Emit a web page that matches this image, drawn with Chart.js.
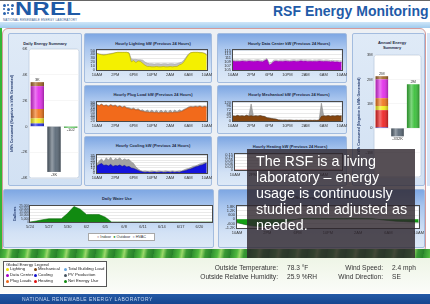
<!DOCTYPE html>
<html>
<head>
<meta charset="utf-8">
<script src="https://cdn.jsdelivr.net/npm/chart.js@4.4.1/dist/chart.umd.min.js"></script>
<style>
html,body{margin:0;padding:0;width:430px;height:304px;overflow:hidden;background:#fff;font-family:"Liberation Sans",Arial,sans-serif;}
.abs{position:absolute;}
.panel{position:absolute;box-sizing:border-box;border:1px solid #a3bcdf;border-radius:2px;}
.hp{background:linear-gradient(#7ea7e3 0%,#a8c5ee 28%,#d3e2f5 75%,#dde9f7 100%);}
.sp{background:linear-gradient(#dfeaf7,#d2e1f3);}
.t{position:absolute;font-weight:bold;font-size:4px;color:#1d2a44;white-space:nowrap;transform:translate(-50%,-50%);}
canvas{position:absolute;}
.dot{position:absolute;width:3px;height:3px;border-radius:50%;}
.lg{position:absolute;font-size:4.3px;color:#222;white-space:nowrap;}
.info{position:absolute;font-size:6.6px;color:#333;white-space:nowrap;}
</style>
</head>
<body>
<!-- header -->
<div class="abs" style="left:0;top:0;width:430px;height:1px;background:#666"></div>
<div class="abs" style="left:3px;top:4px;width:11px;height:12px">
  <div class="dot" style="left:0;top:0;background:#2a62ad"></div>
  <div class="dot" style="left:4px;top:0;background:#2a62ad;width:2px;height:2px"></div>
  <div class="dot" style="left:8px;top:0;background:#2a62ad"></div>
  <div class="dot" style="left:0;top:4px;background:#2a62ad;width:2px;height:2px"></div>
  <div class="dot" style="left:4px;top:4px;background:#2a62ad"></div>
  <div class="dot" style="left:8px;top:4px;background:#2a62ad;width:2px;height:2px"></div>
  <div class="dot" style="left:0;top:8px;background:#2a62ad"></div>
  <div class="dot" style="left:4px;top:8px;background:#2a62ad;width:2px;height:2px"></div>
  <div class="dot" style="left:8px;top:8px;background:#2a62ad"></div>
</div>
<div class="abs" style="left:15px;top:-1px;font-size:18px;font-weight:bold;color:#1f5aa6;transform:scaleX(1.32);transform-origin:left top;letter-spacing:0.3px">NREL</div>
<div class="abs" style="left:3px;top:18px;font-size:3px;color:#3b5d8f;white-space:nowrap;letter-spacing:0.15px">NATIONAL RENEWABLE ENERGY LABORATORY</div>
<div class="abs" style="left:273px;top:3px;font-size:14px;font-weight:bold;color:#1f5ba8;white-space:nowrap">RSF Energy Monitoring</div>
<div class="abs" style="left:0;top:22px;width:430px;height:6px;background:linear-gradient(#cfe6f8,#9fcbee)"></div>

<!-- main area -->
<div class="abs" style="left:0;top:28px;width:2px;height:230px;background:#35b535"></div>
<div class="abs" style="left:2px;top:28px;width:424px;height:225px;box-sizing:border-box;border:1px solid #d49a9a;border-radius:6px;background:#edf0f4"></div>
<div class="abs" style="left:427px;top:33px;width:3px;height:153px;background:#d6e4f6"></div>

<div class="panel sp" style="left:8px;top:33px;width:74px;height:153px"></div>
<div class="panel hp" style="left:84px;top:33px;width:128px;height:50px"></div>
<div class="panel hp" style="left:84px;top:85px;width:128px;height:49px"></div>
<div class="panel hp" style="left:84px;top:136px;width:128px;height:50px"></div>
<div class="panel hp" style="left:217px;top:33px;width:130px;height:50px"></div>
<div class="panel hp" style="left:217px;top:85px;width:130px;height:49px"></div>
<div class="panel hp" style="left:217px;top:136px;width:130px;height:50px"></div>
<div class="panel sp" style="left:352px;top:33px;width:73px;height:153px"></div>
<div class="panel hp" style="left:3px;top:189px;width:211px;height:59px"></div>
<div class="panel hp" style="left:218px;top:189px;width:207px;height:59px"></div>

<div class="t" style="left:45px;top:43px">Daily Energy Summary</div>
<div class="t" style="left:153px;top:43px">Hourly Lighting kW (Previous 24 Hours)</div>
<div class="t" style="left:153px;top:94px">Hourly Plug Load kW (Previous 24 Hours)</div>
<div class="t" style="left:153px;top:145px">Hourly Cooling kW (Previous 24 Hours)</div>
<div class="t" style="left:289px;top:43px">Hourly Data Center kW (Previous 24 Hours)</div>
<div class="t" style="left:289px;top:94px">Hourly Mechanical kW (Previous 24 Hours)</div>
<div class="t" style="left:290px;top:146px">Hourly Heating kW (Previous 24 Hours)</div>
<div class="t" style="left:392px;top:45px;text-align:center;line-height:5px">Annual Energy<br>Summary</div>
<div class="t" style="left:117px;top:198px">Daily Water Use</div>
<div class="t" style="left:322px;top:197px">Hourly Net Energy kW (Previous 24 Hours)</div>

<canvas id="cDaily"></canvas>
<canvas id="cAnnual"></canvas>
<canvas id="cLight"></canvas>
<canvas id="cPlug"></canvas>
<canvas id="cCool"></canvas>
<canvas id="cData"></canvas>
<canvas id="cMech"></canvas>
<canvas id="cHeat"></canvas>
<canvas id="cPower"></canvas>
<canvas id="cWater"></canvas>

<div class="abs" style="left:88px;top:233px;width:67px;height:8px;box-sizing:border-box;border:1px solid #a8a8a8;background:#fff;font-size:3.8px;color:#333;line-height:6px;text-align:center;white-space:nowrap">
  <span style="color:#c9b0b0">&#9679;</span> Indoor &nbsp;<span style="color:#118a11">&#9679;</span> Outdoor &nbsp;<span style="color:#b8b8c8">&#9679;</span> HVAC
</div>

<!-- grass strip -->
<div class="abs" style="left:0;top:249px;width:430px;height:9px;background:repeating-linear-gradient(100deg,#2f8f2f 0px,#4fb83f 6px,#9ad86a 9px,#3a9a34 13px,#27802a 19px)"></div>

<!-- overlay -->
<div class="abs" style="left:247px;top:149px;width:168px;height:110px;background:rgba(44,35,42,0.8)"></div>
<div class="abs" style="left:256px;top:153px;font-size:14.3px;line-height:16px;color:#fff;white-space:nowrap">The RSF is a living<br>laboratory &#8211; energy<br>usage is continuously<br>studied and adjusted as<br>needed.</div>

<!-- bottom info -->
<div class="abs" style="left:0;top:258px;width:430px;height:35px;background:linear-gradient(#eef5e6,#fbfcf9)"></div>
<div class="abs" style="left:3px;top:261px;width:104px;height:26px;box-sizing:border-box;border:1px solid #555;background:#fff"></div>
<div class="lg" style="left:6px;top:262px">Global Energy Legend</div>
<div id="legendItems"></div>
<div class="info" style="right:152px;top:264px">Outside Temperature:</div>
<div class="info" style="left:287px;top:264px">78.3 &deg;F</div>
<div class="info" style="right:152px;top:273px">Outside Relative Humidity:</div>
<div class="info" style="left:287px;top:273px">25.9 %RH</div>
<div class="info" style="right:47px;top:264px">Wind Speed:</div>
<div class="info" style="left:392px;top:264px">2.4 mph</div>
<div class="info" style="right:47px;top:273px">Wind Direction:</div>
<div class="info" style="left:392px;top:273px">SE</div>

<div class="abs" style="left:0;top:294px;width:430px;height:10px;background:linear-gradient(#2359a6,#16468f)"></div>
<div class="abs" style="left:22px;top:296px;font-size:5px;color:#c9d8ef;letter-spacing:0.45px;white-space:nowrap">NATIONAL RENEWABLE ENERGY LABORATORY</div>

<script>
// ---- data ----
var hourTicks = ['10AM', '2PM', '6PM', '10PM', '2AM', '6AM', '10AM'];

// half-hour readings, 10AM -> 10AM
var lightingNow = [42, 40, 39, 38, 39, 40, 41, 42,  44, 45, 45, 45, 45, 45, 43, 21,
  24, 19, 23, 22, 17, 12, 9, 9,  8, 8, 9, 8, 8, 9, 8, 8,
  9, 8, 9, 9, 13, 15, 21, 30,  39, 44, 45, 45, 45, 44, 44, 42,  38];
var lightingPrev = [42, 41, 40, 40, 40, 41, 42, 43,  44, 45, 45, 45, 45, 45, 44, 28,
  27, 27, 26, 26, 25, 20, 17, 16,  16, 15, 16, 16, 15, 16, 16, 15,
  16, 16, 15, 16, 18, 20, 25, 33,  41, 44, 45, 45, 45, 45, 44, 43,  40];

var plugNow = [80, 77, 82, 76, 79, 74, 80, 75,  78, 72, 76, 70, 74, 68, 66, 63,
  65, 61, 62, 58, 56, 54, 53, 52,  53, 51, 52, 50, 52, 51, 52, 50,
  52, 51, 53, 52, 54, 56, 60, 65,  70, 73, 71, 74, 72, 75, 71, 74,  72];
var plugPrev = [82, 79, 84, 78, 81, 77, 82, 78,  80, 75, 78, 73, 76, 71, 70, 66,
  69, 63, 66, 60, 62, 55, 61, 54,  61, 53, 60, 52, 61, 53, 60, 52,
  61, 53, 61, 54, 62, 58, 64, 67,  73, 75, 74, 76, 75, 77, 74, 76,  75];

var coolingNow = [14, 17, 19, 15, 16, 14, 17, 13,  15, 14, 16, 13, 15, 12, 13, 10,
  9, 7, 5, 3, 2, 1, 2, 1,  1, 2, 1, 1, 2, 1, 1, 2,
  1, 2, 1, 2, 1, 3, 4, 5,  7, 8, 10, 12, 13, 15, 16, 18,  20];
var coolingPrev = [18, 24, 28, 22, 30, 26, 31, 24,  29, 27, 30, 25, 28, 26, 27, 22,
  19, 12, 8, 5, 3, 4, 3, 3,  4, 3, 3, 4, 3, 3, 4, 3,
  3, 4, 3, 3, 4, 4, 6, 8,  9, 11, 13, 14, 16, 18, 19, 21,  22];

var dataNow = [109.6, 109.4, 109.5, 109.3, 109.6, 109.5, 109.4, 109.6,
  109.5, 109.3, 109.5, 109.6, 109.4, 109.2, 109.8, 110.3,
  107.6, 108.2, 109.4, 109.6, 109.3, 109.5, 109.4, 109.6,
  109.5, 109.3, 109.5, 109.6, 109.4, 109.5, 109.7, 109.5,
  109.6, 109.4, 109.5, 109.3, 109.5, 109.4, 109.6, 109.5,
  109.3, 109.5, 109.4, 109.2, 109.3, 109.1, 109.2, 109.0,  109.1];
var dataPrev = [110.1, 110.0, 110.1, 109.9, 110.2, 110.0, 110.0, 110.2,
  110.0, 109.9, 110.1, 110.2, 110.0, 109.8, 110.3, 110.8,
  108.4, 108.9, 110.0, 110.1, 109.9, 110.1, 110.0, 110.2,
  110.0, 109.9, 110.1, 110.2, 110.0, 110.1, 110.3, 110.1,
  110.2, 110.0, 110.1, 109.9, 110.1, 110.0, 110.2, 110.1,
  109.9, 110.1, 110.0, 109.8, 109.9, 109.7, 109.8, 109.6,  109.7];

var mechNow = [32, 30, 35, 31, 33, 30, 36, 31,  34, 30, 33, 31, 34, 30, 28, 20,
  18, 15, 13, 11, 6, 5, 4, 5,  4, 5, 4, 3, 4, 3, 4, 3,
  4, 3, 4, 3, 4, 3, 5, 30,  33, 31, 34, 30, 33, 31, 34, 32,  33];
var mechPrev = [34, 32, 37, 33, 35, 32, 38, 33,  110, 32, 35, 33, 36, 32, 30, 22,
  20, 17, 15, 13, 8, 7, 6, 7,  6, 7, 6, 5, 6, 5, 6, 5,
  6, 5, 6, 5, 6, 5, 7, 115,  35, 33, 36, 32, 35, 33, 36, 34,  35];

// hourly readings, 10AM -> 10AM
var heatingNow = [0, 0, 0, 0, 0, 0, 0, 0, 0, 0, 0, 0, 0, 0, 0, 0, 0, 0, 0, 0, 0, 0, 0, 0, 0];
var netPower = [-450, -700, -900, -1000, -950, -800, -500, -200, 50, 120, 130, 120, 110,
  120, 110, 120, 130, 120, 100, -50, -150, -250, -300, -350, -400];

// energy summaries
var sumCats = ['Consumed', 'Produced', 'Net'];
var dailyCooling = [230, null, null];
var dailyHeating = [0, null, null];
var dailyLighting = [390, null, null];
var dailyPlug = [730, null, null];
var dailyDataCtr = [1770, null, null];
var dailyMech = [308, null, null];
var dailyPV = [null, -3530, null];
var dailyNet = [null, null, -102];

var annualCooling = [30000, null, null];
var annualHeating = [710000, null, null];
var annualLighting = [170000, null, null];
var annualPlug = [320000, null, null];
var annualDataCtr = [770000, null, null];
var annualMech = [130000, null, null];
var annualPV = [null, -332000, null];
var annualNet = [null, null, 1800000];

// water
var waterDays = ['5/24', '5/25', '5/26', '5/27', '5/28', '5/29', '5/30', '5/31', '6/1', '6/2',
  '6/3', '6/4', '6/5', '6/6', '6/7', '6/8', '6/9', '6/10', '6/11', '6/12',
  '6/13', '6/14', '6/15', '6/16', '6/17', '6/18', '6/19', '6/20', '6/21', '6/22'];
var waterOutdoor = [0, 1500, 3500, 5000, 5000, 5000, 13500, 24000, 20000, 11500,
  11500, 11500, 7500, 0, 0, 0, 0, 0, 0, 0,
  0, 0, 0, 0, 0, 0, 0, 0, 0, 0];

var legendItems = [
  ['Lighting', '#efe000'], ['Data Center', '#a000c4'], ['Plug Loads', '#e8681a'],
  ['Mechanical', '#7a4412'], ['Cooling', '#1212cc'], ['Heating', '#dd1111'],
  ['Total Building Load', '#6aa6de'], ['PV Production', '#46525e'], ['Net Energy Use', '#118a11']
];

// ---- setup ----
Chart.defaults.font.family = '"Liberation Sans", Arial, sans-serif';
Chart.defaults.font.size = 4;
Chart.defaults.color = '#333';

var plotFrame = {
  id: 'plotFrame',
  beforeDraw: function (chart, args, o) {
    var a = chart.chartArea, c = chart.ctx;
    c.save();
    c.fillStyle = o.bg || '#fff';
    c.beginPath();
    c.roundRect(a.left - (o.inset || 0), a.top - (o.inset || 0), a.right - a.left + 2 * (o.inset || 0), a.bottom - a.top + 2 * (o.inset || 0), o.radius || 0);
    c.fill();
    if (o.edge) { c.strokeStyle = o.edge; c.lineWidth = 0.8; c.stroke(); }
    c.restore();
  },
  afterDatasetsDraw: function (chart, args, o) {
    if (!o.border) return;
    var a = chart.chartArea, c = chart.ctx;
    c.save();
    c.strokeStyle = o.border;
    c.lineWidth = 1;
    c.strokeRect(Math.round(a.left) - 0.5, Math.round(a.top) - 0.5, Math.round(a.right - a.left) + 1, Math.round(a.bottom - a.top) + 1);
    c.restore();
  }
};

// shading + totals on the summary bars
var barDeco = {
  id: 'barDeco',
  afterDatasetsDraw: function (chart, args, o) {
    var c = chart.ctx;
    c.save();
    chart.data.datasets.forEach(function (ds, i) {
      chart.getDatasetMeta(i).data.forEach(function (el, j) {
        if (ds.data[j] == null) return;
        var l = el.x - el.width / 2, t = Math.min(el.y, el.base), h = Math.abs(el.base - el.y);
        var g = c.createLinearGradient(l, 0, l + el.width, 0);
        g.addColorStop(0, 'rgba(0,0,0,0.25)');
        g.addColorStop(0.35, 'rgba(255,255,255,0.35)');
        g.addColorStop(0.6, 'rgba(255,255,255,0.05)');
        g.addColorStop(1, 'rgba(0,0,0,0.3)');
        c.fillStyle = g;
        c.fillRect(l, t, el.width, h);
      });
    });
    c.font = '4px "Liberation Sans", Arial';
    c.fillStyle = '#333';
    c.textAlign = 'center';
    chart.data.labels.forEach(function (lab, j) {
      var top = Infinity, bot = -Infinity, x = 0, total = 0;
      chart.data.datasets.forEach(function (ds, i) {
        if (ds.data[j] == null) return;
        var el = chart.getDatasetMeta(i).data[j];
        x = el.x; total += ds.data[j];
        top = Math.min(top, el.y, el.base); bot = Math.max(bot, el.y, el.base);
      });
      var txt = o.fmt(total);
      if (total >= 0) { c.textBaseline = 'bottom'; c.fillText(txt, x, top - 0.5); }
      else { c.textBaseline = 'top'; c.fillText(txt, x, bot + 0.5); }
    });
    c.restore();
  }
};

function pts(vals) {
  var step = 24 / (vals.length - 1);
  return vals.map(function (v, i) { return { x: i * step, y: v }; });
}

function hourly(id, panel, plot, yr, sets, ycb) {
  var cv = document.getElementById(id);
  var padT = 2, padR = 6, axH = 8;
  cv.style.left = panel[0] + 'px';
  cv.style.top = (plot[1] - padT) + 'px';
  cv.width = plot[2] + padR - panel[0];
  cv.height = plot[3] - plot[1] + padT + axH;
  new Chart(cv, {
    type: 'line',
    data: {
      datasets: sets.map(function (s) {
        return { data: pts(s.data), fill: s.fill || 'origin', backgroundColor: s.bg, borderColor: s.line, borderWidth: 0.6 };
      })
    },
    plugins: [plotFrame],
    options: {
      responsive: false, animation: false, devicePixelRatio: 1,
      layout: { padding: { top: padT, right: padR, left: 0, bottom: 0 } },
      plugins: { legend: { display: false }, tooltip: { enabled: false }, plotFrame: { border: '#4a4a4a' } },
      elements: { point: { radius: 0 }, line: { tension: 0 } },
      scales: {
        x: {
          type: 'linear', min: 0, max: 24,
          afterFit: function (s) { s.height = axH; },
          grid: { display: false, drawTicks: false }, border: { display: false },
          ticks: { stepSize: 4, autoSkip: false, maxRotation: 0, padding: 2, color: '#333',
            callback: function (v) { return hourTicks[v / 4]; } }
        },
        y: {
          min: yr[0], max: yr[1],
          afterFit: function (s) { s.width = plot[0] - panel[0]; },
          grid: { color: '#d2d2d2', lineWidth: 0.5, drawTicks: false }, border: { display: false },
          ticks: { stepSize: yr[2], autoSkip: false, padding: 2, color: '#333', callback: ycb }
        }
      }
    }
  });
}

var grey = '#a2a2a2', greyLine = '#8a8a8a';
hourly('cLight', [84], [97, 48, 208, 70], [0, 50, 10], [
  { data: lightingNow, bg: '#f4f000', line: '#b0a800' },
  { data: lightingPrev, bg: '#c2c2c2', line: '#a0a0a0' }]);
hourly('cPlug', [84], [97, 100, 208, 121], [20, 90, 10], [
  { data: plugNow, bg: '#f26a1b', line: '#c4500f' },
  { data: plugPrev, bg: grey, line: greyLine }]);
hourly('cCool', [84], [97, 153, 208, 173], [0, 35, 5], [
  { data: coolingNow, bg: '#1414dc', line: '#0a0aa0' },
  { data: coolingPrev, bg: grey, line: greyLine }]);
hourly('cData', [217], [233, 48, 343, 70], [105, 115, 2], [
  { data: dataNow, bg: '#b000cc', line: '#80009a' },
  { data: dataPrev, bg: 'rgba(0,0,0,0)', line: '#8a8a8a', fill: false }]);
hourly('cMech', [217], [233, 100, 343, 121], [0, 120, 24], [
  { data: mechNow, bg: '#86460f', line: '#5e300a' },
  { data: mechPrev, bg: grey, line: greyLine }]);
hourly('cHeat', [217], [235, 152, 343, 170], [0, 0.15, 0.03], [
  { data: heatingNow, bg: '#e01010', line: '#a00000' }],
  function (v) { return v.toFixed(2).replace(/^0\.00$/, '0'); });
hourly('cPower', [218], [237, 204, 420, 228], [-1200, 1800, 600], [
  { data: netPower, bg: '#15a015', line: '#0a600a' }],
  function (v) { return Math.abs(v) >= 1000 ? (v / 1000) + 'K' : v; });

function summary(id, left, top, w, h, pad, yw, yr, ytitle, ycb, sets, fmt) {
  var cv = document.getElementById(id);
  cv.style.left = left + 'px'; cv.style.top = top + 'px';
  cv.width = w; cv.height = h;
  new Chart(cv, {
    type: 'bar',
    data: {
      labels: sumCats,
      datasets: sets.map(function (s) {
        return { data: s[0], backgroundColor: s[1], barPercentage: 0.8, categoryPercentage: 1 };
      })
    },
    plugins: [plotFrame, barDeco],
    options: {
      responsive: false, animation: false, devicePixelRatio: 1,
      layout: { padding: pad },
      plugins: { legend: { display: false }, tooltip: { enabled: false },
        plotFrame: { bg: '#fff', radius: 2.5, edge: '#bccbe0' }, barDeco: { fmt: fmt } },
      scales: {
        x: { display: false, stacked: true },
        y: {
          stacked: true, min: yr[0], max: yr[1],
          afterFit: function (s) { s.width = yw; },
          grid: { color: '#ececec', lineWidth: 0.5, drawTicks: false }, border: { display: false },
          title: { display: true, text: ytitle, color: '#233a6e', font: { size: 3.6, weight: 'bold' }, padding: 0 },
          ticks: { stepSize: yr[2], autoSkip: false, padding: 1.5, color: '#333', callback: ycb }
        }
      }
    }
  });
}

summary('cDaily', 8, 45, 74, 141, { left: 2, top: 4, right: 3, bottom: 8 }, 19,
  [-4000, 6000, 2000], 'kWh Consumed (Negative is kWh Generated)',
  function (v) { return v === 0 ? '0' : (v / 1000) + 'K'; },
  [[dailyCooling, '#2b33e6'], [dailyHeating, '#ef2626'], [dailyLighting, '#f4ee1e'], [dailyPlug, '#f07820'],
   [dailyDataCtr, '#e230ea'], [dailyMech, '#a56a2c'], [dailyPV, '#5c6a78'], [dailyNet, '#3cc03c']],
  function (v) { return Math.abs(v) >= 1000 ? Math.trunc(v / 1000) + 'K' : String(v); });

summary('cAnnual', 352, 50, 73, 136, { left: 5, top: 5, right: 4, bottom: 9 }, 17,
  [-2000000, 3000000, 1000000], 'kWh Consumed (Negative is kWh Generated)',
  function (v) { return v === 0 ? '0' : (v / 1000000) + 'M'; },
  [[annualCooling, '#2b33e6'], [annualHeating, '#ef2626'], [annualLighting, '#f4ee1e'], [annualPlug, '#f07820'],
   [annualDataCtr, '#e230ea'], [annualMech, '#a56a2c'], [annualPV, '#5c6a78'], [annualNet, '#3cc03c']],
  function (v) { return Math.abs(v) >= 1000000 ? Math.round(v / 1000000) + 'M' : Math.round(v / 1000) + 'K'; });

// water chart
(function () {
  var cv = document.getElementById('cWater');
  var left = 12, plot = [30, 205, 212, 222], padT = 2, padR = 6, axH = 8;
  cv.style.left = left + 'px'; cv.style.top = (plot[1] - padT) + 'px';
  cv.width = plot[2] + padR - left; cv.height = plot[3] - plot[1] + padT + axH;
  new Chart(cv, {
    type: 'line',
    data: { labels: waterDays, datasets: [{ data: waterOutdoor, fill: 'origin', backgroundColor: '#118a11', borderColor: '#0b6a0b', borderWidth: 0.6 }] },
    plugins: [plotFrame],
    options: {
      responsive: false, animation: false, devicePixelRatio: 1,
      layout: { padding: { top: padT, right: padR, left: 0, bottom: 0 } },
      plugins: { legend: { display: false }, tooltip: { enabled: false }, plotFrame: { border: '#4a4a4a' } },
      elements: { point: { radius: 0 }, line: { tension: 0 } },
      scales: {
        x: {
          afterFit: function (s) { s.height = axH; },
          grid: { display: false, drawTicks: false }, border: { display: false },
          ticks: { autoSkip: false, maxRotation: 0, padding: 2, color: '#333',
            callback: function (v, i) { return i % 3 === 0 ? waterDays[i] : ''; } }
        },
        y: {
          min: 0, max: 25000,
          afterFit: function (s) { s.width = plot[0] - left; },
          grid: { color: '#d2d2d2', lineWidth: 0.5, drawTicks: false }, border: { display: false },
          title: { display: true, text: 'Gallons', color: '#233a6e', font: { size: 4, weight: 'bold' }, padding: 0 },
          ticks: { stepSize: 5000, autoSkip: false, padding: 1, color: '#333', font: { size: 3.2 } }
        }
      }
    }
  });
})();

// global legend
(function () {
  var box = document.getElementById('legendItems'), html = '';
  var cols = [7, 35, 65], rows = [269, 275, 281];
  legendItems.forEach(function (it, i) {
    var cx = cols[Math.floor(i / 3)], cy = rows[i % 3];
    html += '<div class="abs" style="left:' + (cx - 1.5) + 'px;top:' + (cy - 1.5) + 'px;width:3px;height:3px;border-radius:50%;background:' + it[1] + '"></div>';
    html += '<div class="lg" style="left:' + (cx + 3) + 'px;top:' + (cy - 2.6) + 'px">' + it[0] + '</div>';
  });
  box.innerHTML = html;
})();
</script>
</body>
</html>
